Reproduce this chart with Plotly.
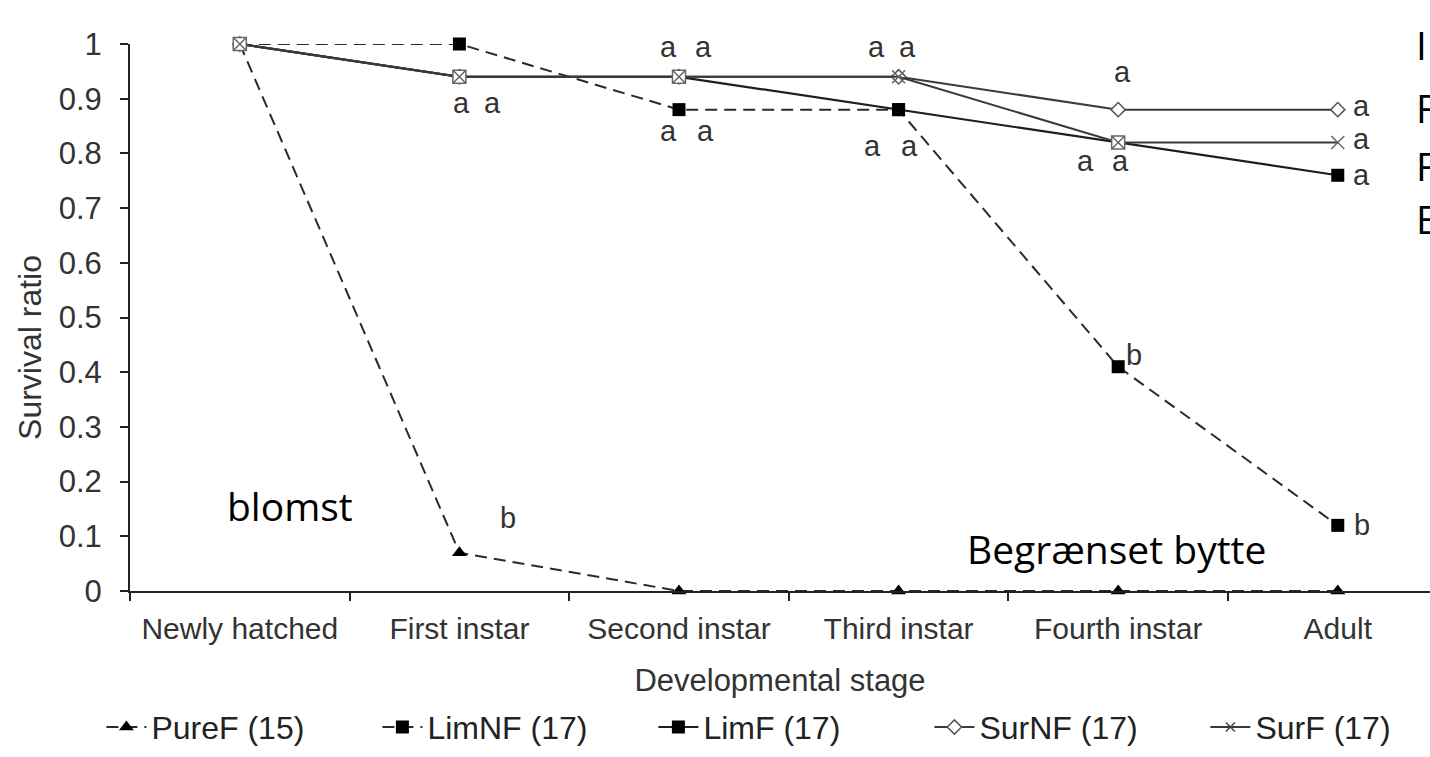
import plotly.graph_objects as go

stages = ["Newly hatched", "First instar", "Second instar", "Third instar", "Fourth instar", "Adult"]
pure_f = [1.0, 0.07, 0.0, 0.0, 0.0, 0.0]
lim_nf = [1.0, 1.0, 0.88, 0.88, 0.41, 0.12]
lim_f = [1.0, 0.94, 0.94, 0.88, 0.82, 0.76]
sur_nf = [1.0, 0.94, 0.94, 0.94, 0.88, 0.88]
sur_f = [1.0, 0.94, 0.94, 0.94, 0.82, 0.82]
series_names = ["PureF (15)", "LimNF (17)", "LimF (17)", "SurNF (17)", "SurF (17)"]
y_ticks = [0, 0.1, 0.2, 0.3, 0.4, 0.5, 0.6, 0.7, 0.8, 0.9, 1]
y_tick_text = ["0", "0.1", "0.2", "0.3", "0.4", "0.5", "0.6", "0.7", "0.8", "0.9", "1"]

# significance letters: (x position in category units, y value, letter)
letters = [
    (1.01, 1.044, "a"), (1.15, 1.044, "a"),
    (1.01, 0.892, "a"), (1.15, 0.892, "a"),
    (1.95, 0.995, "a"), (2.11, 0.995, "a"),
    (1.95, 0.841, "a"), (2.12, 0.841, "a"),
    (2.90, 0.995, "a"), (3.04, 0.995, "a"),
    (2.88, 0.814, "a"), (3.05, 0.814, "a"),
    (4.02, 0.949, "a"),
    (3.85, 0.786, "a"), (4.01, 0.786, "a"),
    (5.11, 0.887, "a"), (5.11, 0.826, "a"), (5.11, 0.761, "a"),
    (1.22, 0.133, "b"), (4.07, 0.431, "b"), (5.11, 0.121, "b"),
]

# overlay texts (paper coords)
overlay = [
    (0.073, 0.156, "blomst"),
    (0.642, 0.077, "Begrænset bytte"),
]
side_letters = ["I", "F", "F", "E"]
side_y = [1.0, 0.883, 0.778, 0.681]

FONT = "Liberation Sans, Arial, sans-serif"
DASH = "12px,7px"

fig = go.Figure()
fig.add_trace(go.Scatter(x=stages, y=pure_f, name=series_names[0], mode="lines+markers",
                         line=dict(color="#2a2a2a", width=2, dash=DASH),
                         marker=dict(symbol="triangle-up", size=13, color="black"), cliponaxis=False))
fig.add_trace(go.Scatter(x=stages, y=lim_nf, name=series_names[1], mode="lines+markers",
                         line=dict(color="#2a2a2a", width=2, dash=DASH),
                         marker=dict(symbol="square", size=13, color="black"), cliponaxis=False))
fig.add_trace(go.Scatter(x=stages, y=lim_f, name=series_names[2], mode="lines+markers",
                         line=dict(color="#1e1e1e", width=2.2),
                         marker=dict(symbol="square", size=13, color="black"), cliponaxis=False))
fig.add_trace(go.Scatter(x=stages, y=sur_nf, name=series_names[3], mode="lines+markers",
                         line=dict(color="#3a3a3a", width=2),
                         marker=dict(symbol="diamond", size=11, color="white",
                                     line=dict(color="#555", width=1.5)), cliponaxis=False))
fig.add_trace(go.Scatter(x=stages, y=sur_f, name=series_names[4], mode="lines+markers",
                         showlegend=False,
                         line=dict(color="#3a3a3a", width=2),
                         marker=dict(symbol=["square-x", "square-x", "square-x", "x-thin", "square-x", "x-thin"],
                                     size=13, color="white",
                                     line=dict(color="#666", width=1.5)), cliponaxis=False))
# legend entry for SurF showing the plain x marker
fig.add_trace(go.Scatter(x=[None], y=[None], name=series_names[4], mode="lines+markers",
                         line=dict(color="#3a3a3a", width=2),
                         marker=dict(symbol="x-thin", size=9, line=dict(color="#444", width=1.5))))

annotations = []
for xi, yi, t in letters:
    annotations.append(dict(x=xi, y=yi, xref="x", yref="y", text=t, showarrow=False,
                            font=dict(family=FONT, size=29, color="#333")))
for xp, yp, t in overlay:
    annotations.append(dict(x=xp, y=yp, xref="paper", yref="paper", text=t, showarrow=False,
                            xanchor="left", yanchor="middle",
                            font=dict(family="Open Sans", size=39, color="black")))
for t, yp in zip(side_letters, side_y):
    annotations.append(dict(x=0.988, y=yp, xref="paper", yref="paper", text=t, showarrow=False,
                            xanchor="left", yanchor="middle",
                            font=dict(family="Open Sans", size=39, color="black")))
# y-axis title
annotations.append(dict(x=-0.077, y=0.446, xref="paper", yref="paper", text="Survival ratio",
                        textangle=-90, showarrow=False, xanchor="center", yanchor="middle",
                        font=dict(family=FONT, size=32, color="#333")))

fig.update_layout(
    width=1430, height=757,
    margin=dict(l=130, r=0, t=44, b=166, autoexpand=False),
    paper_bgcolor="white", plot_bgcolor="white",
    font=dict(family=FONT, size=31, color="#222"),
    showlegend=True,
    legend=dict(orientation="h", x=-0.022, xanchor="left", y=-0.249, yanchor="middle",
                entrywidth=221, entrywidthmode="pixels", itemwidth=40, tracegroupgap=0,
                font=dict(family=FONT, size=32, color="#222")),
    annotations=annotations,
)
fig.update_xaxes(type="category", range=[-0.5, 5.42], showline=True, linecolor="#222", linewidth=2,
                 ticks="outside", tickson="boundaries", ticklen=8, tickcolor="#222", tickwidth=2,
                 ticklabelstandoff=10, tickfont=dict(family=FONT, size=30, color="#333"),
                 showgrid=False, zeroline=False, automargin=False,
                 title=dict(text="Developmental stage", font=dict(family=FONT, size=31, color="#333"), standoff=25))
fig.update_yaxes(range=[0, 1], showline=True, linecolor="#222", linewidth=2,
                 ticks="outside", ticklen=8, tickcolor="#222", tickwidth=2,
                 tickvals=y_ticks, ticktext=y_tick_text, ticklabelstandoff=12,
                 tickfont=dict(family=FONT, size=31, color="#333"),
                 showgrid=False, zeroline=False, automargin=False)

fig.write_html("out.html")
